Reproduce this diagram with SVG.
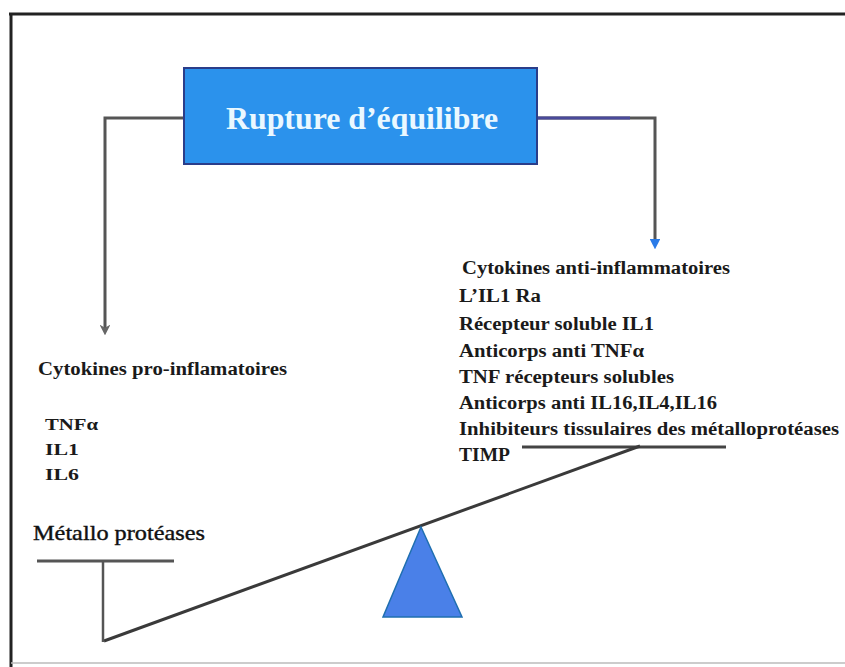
<svg xmlns="http://www.w3.org/2000/svg" width="845" height="667" viewBox="0 0 845 667">
<style>
.t{font-family:"Liberation Serif","Times New Roman",serif;font-weight:bold;fill:#1a1a1a}
.c{fill:none;stroke:#555;stroke-width:3}
</style>
<defs>
<marker id="ag" viewBox="0 0 10 10" refX="5" refY="5" markerWidth="3.6" markerHeight="3.6" orient="auto" markerUnits="strokeWidth">
<path d="M0,0 L10,5 L0,10 L3,5 Z" fill="#666"/>
</marker>
<marker id="ab" viewBox="0 0 10 10" refX="5" refY="5" markerWidth="3.6" markerHeight="3.6" orient="auto" markerUnits="strokeWidth">
<path d="M0,0 L10,5 L0,10 Z" fill="#2a7be8"/>
</marker>
</defs>
<rect x="0" y="0" width="845" height="667" fill="#fff"/>
<g id="frame">
<line x1="9" y1="14" x2="845" y2="14" stroke="#222" stroke-width="3"/>
<line x1="11" y1="13" x2="11" y2="667" stroke="#222" stroke-width="3"/>
<line x1="11" y1="663" x2="845" y2="663" stroke="#bbb" stroke-width="1.5"/>
</g>
<g id="connectors">
<polyline class="c" points="185,118 105,118 105,330" marker-end="url(#ag)"/>
<polyline class="c" points="536,118 655,118 655,244" marker-end="url(#ab)"/>
<line x1="536" y1="118" x2="630" y2="118" stroke="#4a4a9a" stroke-width="3"/>
</g>
<g id="rupture">
<rect x="184" y="68" width="353" height="96" fill="#2b92ec" stroke="#2a3d8a" stroke-width="2"/>
<text x="362" y="129" text-anchor="middle" font-family="Liberation Serif, serif" font-weight="bold" font-size="31" fill="#eaf8ff" textLength="272" lengthAdjust="spacingAndGlyphs">Rupture d’équilibre</text>
</g>
<g id="pro">
<text class="t" x="38" y="375" font-size="18" textLength="249" lengthAdjust="spacingAndGlyphs">Cytokines pro-inflamatoires</text>
<text class="t" x="45" y="430" font-size="17.5" textLength="53" lengthAdjust="spacingAndGlyphs">TNFα</text>
<text class="t" x="45" y="455" font-size="17.5" textLength="34" lengthAdjust="spacingAndGlyphs">IL1</text>
<text class="t" x="45" y="480" font-size="17.5" textLength="34" lengthAdjust="spacingAndGlyphs">IL6</text>
</g>
<g id="anti">
<text class="t" x="462" y="274" font-size="18" textLength="268" lengthAdjust="spacingAndGlyphs">Cytokines anti-inflammatoires</text>
<text class="t" x="459" y="302" font-size="18" textLength="82" lengthAdjust="spacingAndGlyphs">L’IL1 Ra</text>
<text class="t" x="459" y="330" font-size="18" textLength="195" lengthAdjust="spacingAndGlyphs">Récepteur soluble IL1</text>
<text class="t" x="459" y="357" font-size="18" textLength="185" lengthAdjust="spacingAndGlyphs">Anticorps anti TNFα</text>
<text class="t" x="459" y="383" font-size="18" textLength="215" lengthAdjust="spacingAndGlyphs">TNF récepteurs solubles</text>
<text class="t" x="459" y="409" font-size="18" textLength="258" lengthAdjust="spacingAndGlyphs">Anticorps anti IL16,IL4,IL16</text>
<text class="t" x="459" y="435" font-size="18" textLength="380" lengthAdjust="spacingAndGlyphs">Inhibiteurs tissulaires des métalloprotéases</text>
<text class="t" x="459" y="461" font-size="18" textLength="51" lengthAdjust="spacingAndGlyphs">TIMP</text>
</g>
<g id="balance">
<line x1="522" y1="447" x2="726" y2="447" stroke="#444" stroke-width="3"/>
<line x1="104" y1="641" x2="640" y2="446" stroke="#3a3a3a" stroke-width="3"/>
<line x1="37" y1="561" x2="174" y2="561" stroke="#555" stroke-width="3"/>
<line x1="103" y1="561" x2="103" y2="642" stroke="#555" stroke-width="2.5"/>
<polygon points="421,527 383,617 462,617" fill="#4a80e8" stroke="#1f6fb0" stroke-width="1.5"/>
</g>
<g id="metallo">
<text x="33" y="540" font-family="Liberation Serif, serif" font-size="22" fill="#111" stroke="#111" stroke-width="0.4" textLength="172" lengthAdjust="spacingAndGlyphs">Métallo protéases</text>
</g>
</svg>
